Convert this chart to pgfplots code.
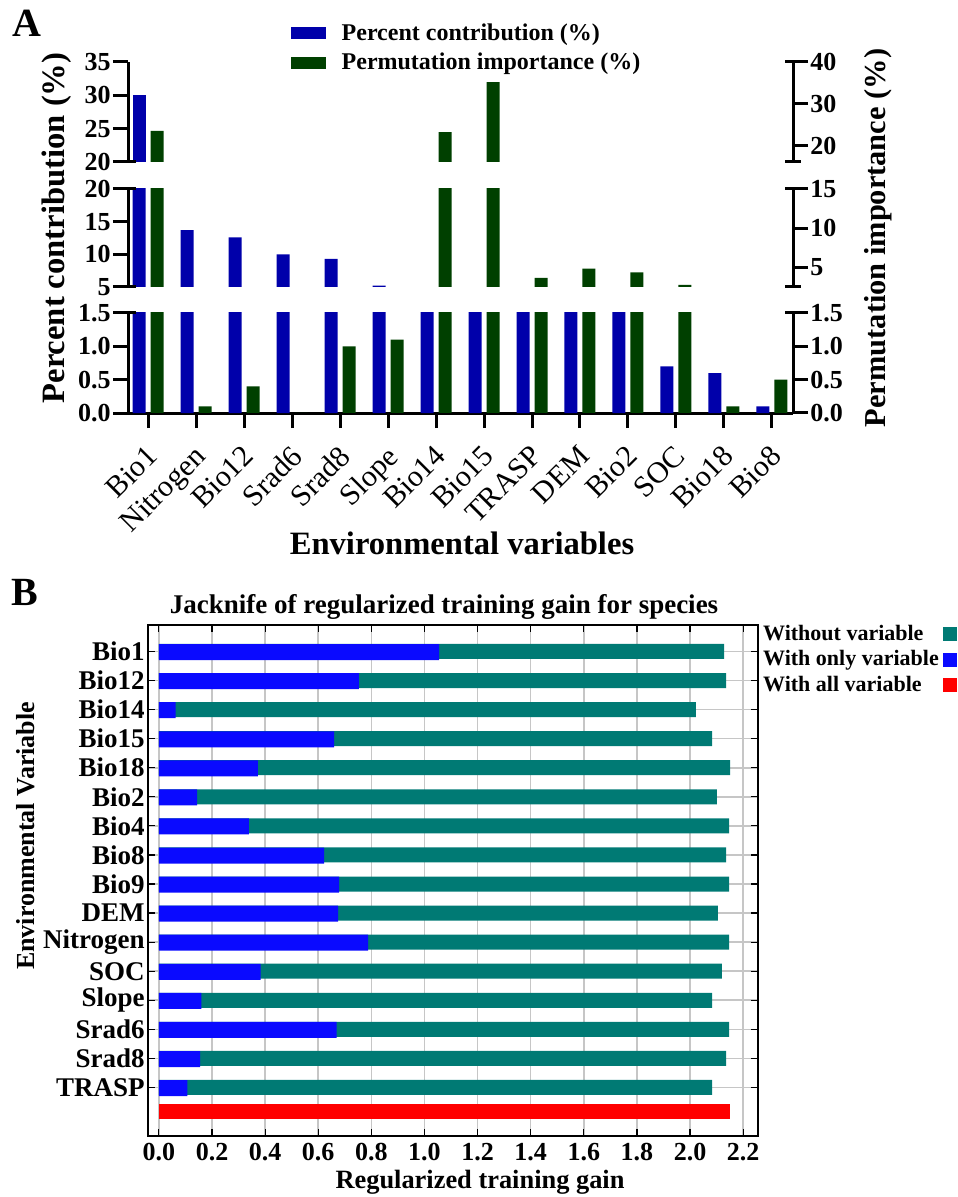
\documentclass[border=0pt]{standalone}
\usepackage{pgfplots}
\usepackage{pgfplotstable}
\pgfplotsset{compat=1.18}
\usepackage{fontspec}
\setmainfont{Liberation Serif}
\definecolor{cblue}{RGB}{0,0,170}
\definecolor{cgreen}{RGB}{0,64,0}
\definecolor{bteal}{RGB}{0,122,116}
\definecolor{bblue}{RGB}{10,10,255}
\definecolor{bred}{RGB}{255,0,0}

\pgfplotstableread{
i name pc pi
0 Bio1 30.0 23.6
1 Nitrogen 13.7 0.1
2 Bio12 12.6 0.4
3 Srad6 10.0 0.0
4 Srad8 9.3 1.0
5 Slope 5.2 1.1
6 Bio14 4.6 23.3
7 Bio15 4.0 35.2
8 TRASP 3.5 3.6
9 DEM 3.0 4.8
10 Bio2 2.6 4.3
11 SOC 0.7 2.7
12 Bio18 0.6 0.1
13 Bio8 0.1 0.5
}\dataA

\pgfplotstableread{
i name wo wi
0 Bio1 2.128 1.055
1 Bio12 2.136 0.753
2 Bio14 2.022 0.063
3 Bio15 2.083 0.660
4 Bio18 2.151 0.373
5 Bio2 2.101 0.144
6 Bio4 2.147 0.339
7 Bio8 2.136 0.622
8 Bio9 2.147 0.679
9 DEM 2.105 0.675
10 Nitrogen 2.147 0.788
11 SOC 2.120 0.383
12 Slope 2.083 0.160
13 Srad6 2.147 0.669
14 Srad8 2.136 0.155
15 TRASP 2.083 0.107
}\dataB

\pgfplotsset{
  segbase/.style={
    scale only axis, width=332.5pt,
    xmin=-0.42, xmax=13.44,
    axis line style={line width=1.5pt, black, -},
    major tick style={line width=1.5pt, black},
    major tick length=7.5pt,
    tick align=outside,
    clip mode=individual,
    /pgf/number format/assume math mode=true,
    yticklabel style={font=\bfseries\fontsize{13}{13}\selectfont, inner sep=1pt},
  },
  segL/.style={segbase, axis y line*=left, axis x line=none, xtick=\empty},
  segR/.style={segbase, axis y line*=right, axis x line=none, xtick=\empty},
  bluebar/.style={ybar, bar width=6.5pt, bar shift=-4.5pt, fill=cblue, draw=none},
  greenbar/.style={ybar, bar width=6.5pt, bar shift=4.5pt, fill=cgreen, draw=none},
}

\begin{document}
\begin{tikzpicture}
\path[use as bounding box] (0pt,0pt) rectangle (478.5pt,-598.5pt);

% ---------- Panel A ----------
% top segment
\begin{axis}[segL, at={(64pt,-31pt)}, anchor=north west, height=50pt,
  ymin=20, ymax=35, ytick={20,25,30,35}]
  \addplot[bluebar, restrict y to domain=20:1000] table[x=i, y=pc]{\dataA};
  \draw[line width=1.5pt] ([xshift=-4pt]rel axis cs:0,0) -- ([xshift=4pt]rel axis cs:0,0);
\end{axis}
\begin{axis}[segR, at={(64pt,-31pt)}, anchor=north west, height=50pt,
  ymin=16.19, ymax=40, ytick={20,30,40},
  legend image code/.code={\fill[#1] (0pt,-3pt) rectangle (17.5pt,3pt);},
  legend style={draw=none, fill=none, at={(0.235,1.47)}, anchor=north west,
    font=\bfseries\fontsize{12}{12}\selectfont, row sep=1pt,
    /tikz/every odd column/.append style={column sep=6pt}},
  legend cell align=left]
  \addlegendimage{fill=cblue, draw=none}
  \addlegendentry{Percent contribution (\%)}
  \addlegendimage{fill=cgreen, draw=none}
  \addlegendentry{Permutation importance (\%)}
  \addplot[greenbar, forget plot, restrict y to domain=16.19:1000] table[x=i, y=pi]{\dataA};
  \draw[line width=1.5pt] ([xshift=-4pt]rel axis cs:1,0) -- ([xshift=4pt]rel axis cs:1,0);
  \draw[line width=1.5pt] ([xshift=-4pt]rel axis cs:1,1) -- ([xshift=4pt]rel axis cs:1,1);
\end{axis}
% middle segment
\begin{axis}[segL, at={(64pt,-94.5pt)}, anchor=north west, height=49pt,
  ymin=5, ymax=20, ytick={5,10,15,20}]
  \addplot[bluebar, restrict y to domain=5:1000] table[x=i, y=pc]{\dataA};
  \draw[line width=1.5pt] ([xshift=-4pt]rel axis cs:0,0) -- ([xshift=4pt]rel axis cs:0,0);
  \draw[line width=1.5pt] ([xshift=-4pt]rel axis cs:0,1) -- ([xshift=4pt]rel axis cs:0,1);
\end{axis}
\begin{axis}[segR, at={(64pt,-94.5pt)}, anchor=north west, height=49pt,
  ymin=2.44, ymax=15, ytick={5,10,15}]
  \addplot[greenbar, restrict y to domain=2.44:1000] table[x=i, y=pi]{\dataA};
  \draw[line width=1.5pt] ([xshift=-4pt]rel axis cs:1,0) -- ([xshift=4pt]rel axis cs:1,0);
  \draw[line width=1.5pt] ([xshift=-4pt]rel axis cs:1,1) -- ([xshift=4pt]rel axis cs:1,1);
\end{axis}
% bottom segment
\begin{axis}[segbase, axis y line*=left, axis x line*=bottom,
  at={(64pt,-156.5pt)}, anchor=north west, height=50pt,
  ymin=0, ymax=1.5, ytick={0,0.5,1,1.5},
  yticklabel style={/pgf/number format/.cd, fixed, fixed zerofill, precision=1},
  xtick={0,...,13}, xticklabels from table={\dataA}{name},
  xticklabel style={xshift=-1.5pt, yshift=-7pt, rotate=45, anchor=north east, inner sep=0.5pt,
    font=\mdseries\fontsize{15}{15}\selectfont}]
  \addplot[bluebar] table[x=i, y=pc]{\dataA};
  \draw[line width=1.5pt] ([xshift=-4pt]rel axis cs:0,1) -- ([xshift=4pt]rel axis cs:0,1);
\end{axis}
\begin{axis}[segR, at={(64pt,-156.5pt)}, anchor=north west, height=50pt,
  ymin=0, ymax=1.5, ytick={0,0.5,1,1.5},
  yticklabel style={/pgf/number format/.cd, fixed, fixed zerofill, precision=1}]
  \addplot[greenbar] table[x=i, y=pi]{\dataA};
  \draw[line width=1.5pt] ([xshift=-4pt]rel axis cs:1,1) -- ([xshift=4pt]rel axis cs:1,1);
\end{axis}

\node[font=\bfseries\fontsize{20}{20}\selectfont] at (13.5pt,-11.5pt) {A};
\node[rotate=90, font=\bfseries\fontsize{16.3}{16.3}\selectfont] at (28.5pt,-114pt) {Percent contribution (\%)};
\node[rotate=90, font=\bfseries\fontsize{15.2}{15.2}\selectfont] at (439pt,-119pt) {Permutation importance (\%)};
\node[font=\bfseries\fontsize{16.3}{16.3}\selectfont] at (231pt,-271.5pt) {Environmental variables};

% ---------- Panel B ----------
\node[font=\bfseries\fontsize{20}{20}\selectfont] at (12.5pt,-296pt) {B};
\node[font=\bfseries\fontsize{13.5}{13.5}\selectfont] at (222pt,-303.5pt) {Jacknife of regularized training gain for species};

\begin{axis}[at={(74pt,-312.5pt)}, anchor=north west,
  scale only axis, width=305pt, height=255.5pt,
  xmin=-0.041, xmax=2.256, ymin=-0.91, ymax=16.67, y dir=reverse,
  xtick={0,0.2,0.4,0.6,0.8,1.0,1.2,1.4,1.6,1.8,2.0,2.2},
  ytick={0,...,15}, yticklabels from table={\dataB}{name},
  /pgf/number format/assume math mode=true,
  xticklabel style={/pgf/number format/.cd, fixed, fixed zerofill, precision=1},
  tick label style={font=\bfseries\fontsize{13}{13}\selectfont},
  yticklabel style={font=\bfseries\fontsize{13.5}{13.5}\selectfont, inner sep=1.5pt},
  xmajorgrids, ymajorgrids, grid style={gray!45, line width=0.8pt},
  tick align=inside, major tick length=3.5pt,
  major tick style={black, line width=0.6pt},
  axis line style={line width=1pt, black},
  legend image code/.code={\fill[#1] (0pt,-3.5pt) rectangle (7pt,3.5pt);},
  legend plot pos=right, legend cell align=left,
  legend style={draw=none, fill=none, at={(0.998,1.012)}, anchor=north west,
    font=\bfseries\fontsize{11}{11}\selectfont, row sep=-0.5pt, inner sep=1pt},
]
  \addplot[xbar, bar width=7.5pt, bar shift=0pt, fill=bteal, draw=none] table[x=wo, y=i]{\dataB};
  \addlegendentry{Without variable}
  \addplot[xbar, bar width=8pt, bar shift=-0.3pt, fill=bblue, draw=none] table[x=wi, y=i]{\dataB};
  \addlegendentry{With only variable}
  \addplot[xbar, bar width=7.5pt, bar shift=0pt, fill=bred, draw=none] coordinates {(2.151,15.83)};
  \addlegendentry{With all variable}
\end{axis}

\node[rotate=90, font=\bfseries\fontsize{13}{13}\selectfont] at (13pt,-418pt) {Environmental Variable};
\node[font=\bfseries\fontsize{13.2}{13.2}\selectfont] at (240pt,-591pt) {Regularized training gain};
\end{tikzpicture}
\end{document}
